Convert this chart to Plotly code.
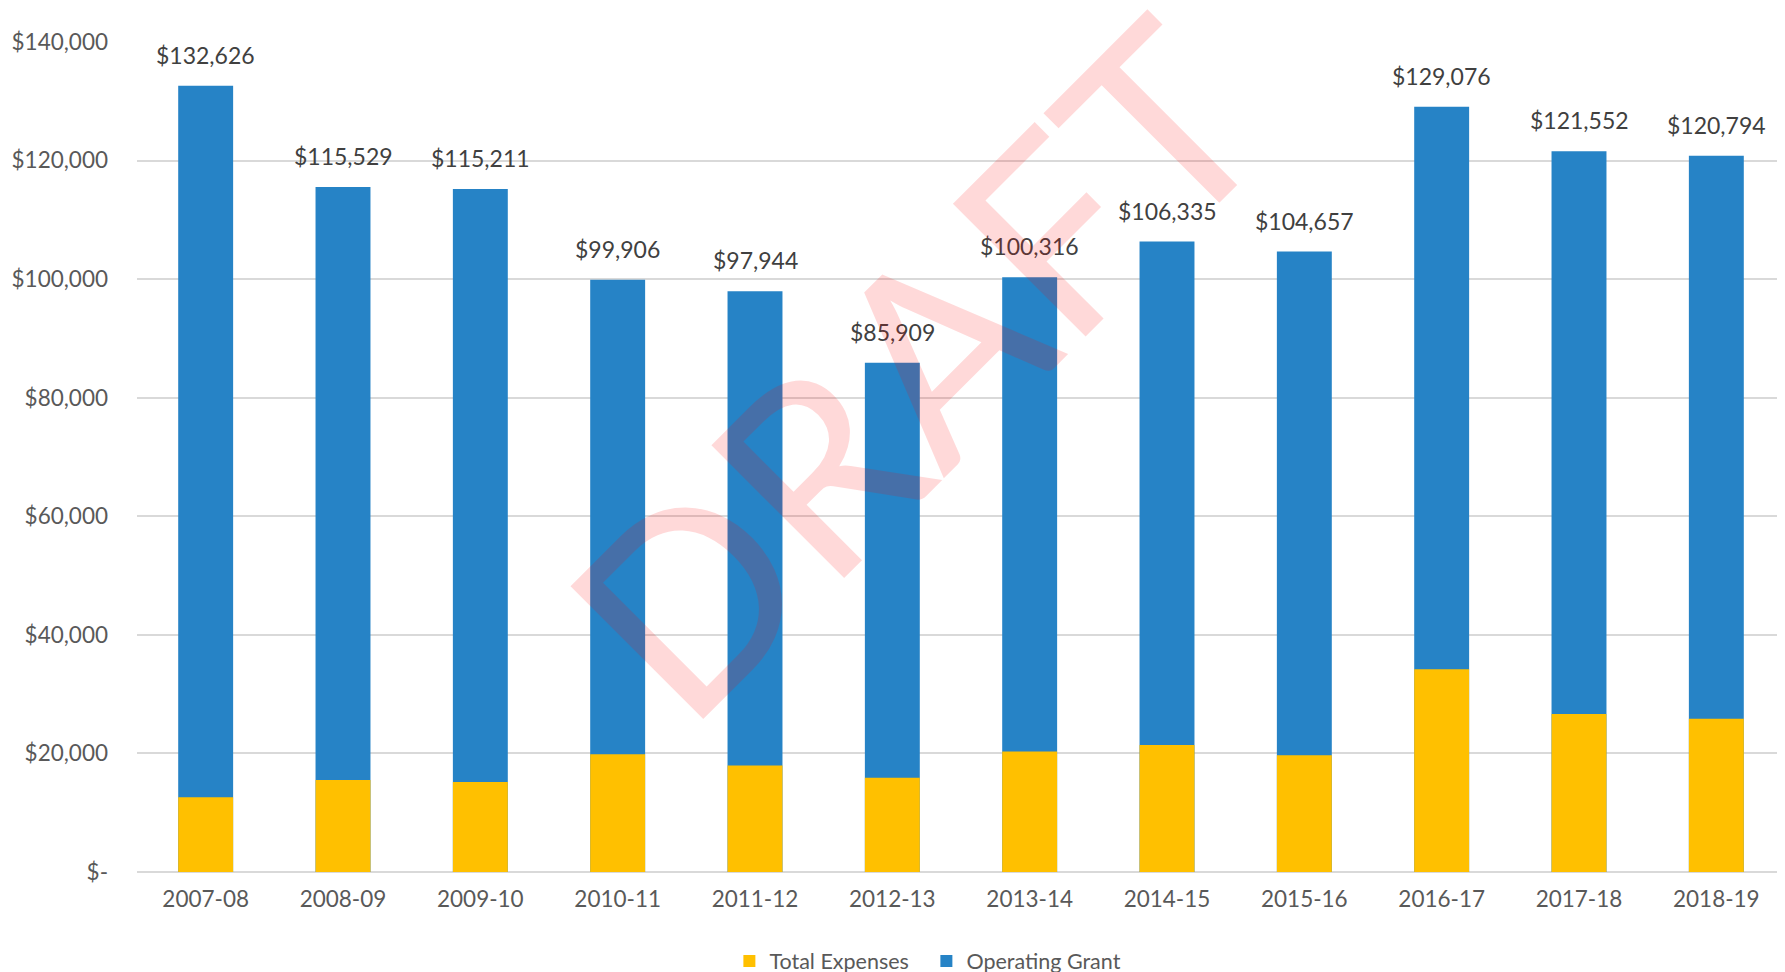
import plotly.graph_objects as go

years = ["2007-08", "2008-09", "2009-10", "2010-11", "2011-12", "2012-13",
         "2013-14", "2014-15", "2015-16", "2016-17", "2017-18", "2018-19"]
operating_grant_total = [132626, 115529, 115211, 99906, 97944, 85909,
                         100316, 106335, 104657, 129076, 121552, 120794]
total_expenses = [12600, 15500, 15160, 19880, 17960, 15910,
                  20340, 21410, 19710, 34190, 26640, 25840]
y_tick_vals = [0, 20000, 40000, 60000, 80000, 100000, 120000, 140000]
y_tick_text = ["$-", "$20,000", "$40,000", "$60,000", "$80,000",
               "$100,000", "$120,000", "$140,000"]

FONT = "Lato, 'Open Sans', sans-serif"
GREY = "#595959"

fig = go.Figure()
fig.add_trace(go.Bar(
    x=years, y=operating_grant_total, name="Operating Grant",
    marker=dict(color="#2683C6", line=dict(width=0)),
))
fig.add_trace(go.Bar(
    x=years, y=total_expenses, name="Total Expenses",
    marker=dict(color="#FFC000", line=dict(width=0)),
))

for yr, v in zip(years, operating_grant_total):
    fig.add_annotation(
        x=yr, y=v, text=f"${v:,}", showarrow=False,
        yanchor="middle", yshift=31,
        font=dict(family=FONT, size=23, color="#404040"),
    )

fig.add_annotation(
    x=0.471, y=0.61, xref="paper", yref="paper",
    text="DRAFT", showarrow=False, textangle=-45,
    xanchor="center", yanchor="middle",
    font=dict(family=FONT, size=262, color="rgba(255,0,0,0.15)"),
)

fig.update_layout(
    width=1785, height=972,
    margin=dict(l=129, r=8, t=34, b=108, autoexpand=False),
    paper_bgcolor="white", plot_bgcolor="white",
    barmode="overlay", bargap=0.6,
    font=dict(family=FONT, size=22, color=GREY),
    legend=dict(
        orientation="h", xref="container", yref="container",
        x=0.5145, y=0.0195, xanchor="center", yanchor="middle",
        traceorder="reversed", font=dict(size=21.5, color=GREY),
        itemwidth=30, entrywidth=152,
    ),
    xaxis=dict(
        type="category", automargin=False,
        showgrid=False, showline=False, ticks="",
        tickfont=dict(size=22.5, color=GREY), ticklabelstandoff=11,
    ),
    yaxis=dict(
        range=[0, 140000], tickvals=y_tick_vals, ticktext=y_tick_text,
        automargin=False,
        showgrid=True, gridcolor="#D9D9D9", gridwidth=1.5,
        zeroline=True, zerolinecolor="#D9D9D9", zerolinewidth=1.5,
        showline=False, ticks="", ticklabelstandoff=28,
        tickfont=dict(size=22.5, color=GREY),
    ),
)

fig.write_html("out.html")
